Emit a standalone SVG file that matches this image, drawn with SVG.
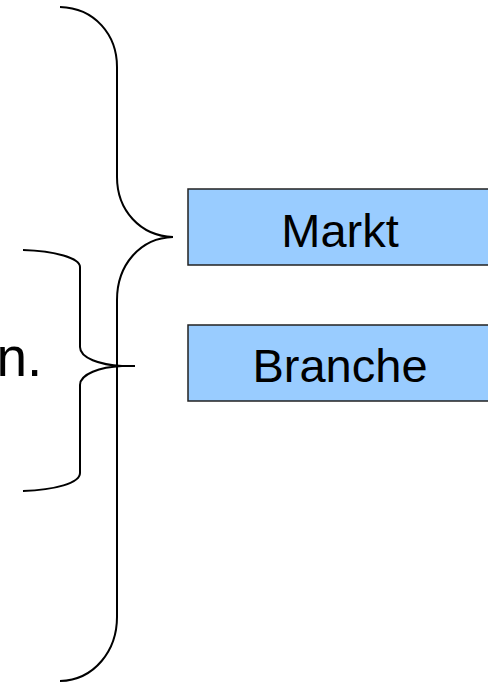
<svg xmlns="http://www.w3.org/2000/svg" width="488" height="684" viewBox="0 0 488 684">
  <style>
    .brace { fill: none; stroke: #000; stroke-width: 2; }
    .box { fill: #99ccff; stroke: #222; stroke-width: 1.5; }
    .label { font-family: "Liberation Sans", Arial, sans-serif; font-size: 47px; fill: #000; }
  </style>
  <rect width="488" height="684" fill="#fff"/>
  <g id="connectors">
    <!-- large brace pointing at Markt -->
    <path id="brace-large" class="brace" d="M60,7 C95,8 117,35 117,67 L117,177 C117,210 140,236 173,237 C140,238 117,265 117,300 L117,617 C117,650 95,680 60,681"/>
    <!-- small brace -->
    <path id="brace-small" class="brace" d="M23,250 C55,251 80,258 80,267 L80,347 C80,358 100,365 122,366 L135,366 M122,366 C100,367 80,374 80,385 L80,473 C80,483 55,490 23,491"/>
  </g>
  <g id="label-n">
    <text class="label" x="-3.5" y="376" style="font-size:55px">n.</text>
  </g>
  <g id="node-markt">
    <rect class="box" x="188" y="189" width="310" height="76"/>
    <text class="label" x="340" y="247" text-anchor="middle">Markt</text>
  </g>
  <g id="node-branche">
    <rect class="box" x="188" y="325" width="310" height="76"/>
    <text class="label" x="340" y="382" text-anchor="middle">Branche</text>
  </g>
</svg>
